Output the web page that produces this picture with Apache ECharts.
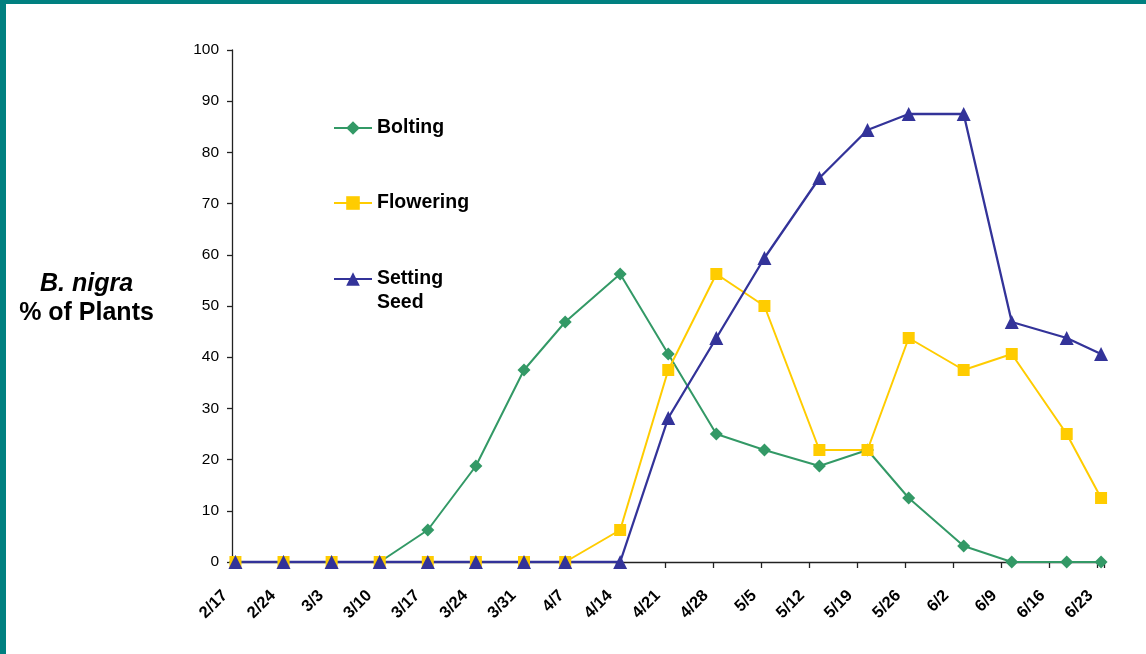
<!DOCTYPE html>
<html>
<head>
<meta charset="utf-8">
<title>B. nigra phenology</title>
<script src="https://cdn.jsdelivr.net/npm/echarts@6/dist/echarts.min.js"></script>
<style>
  html, body { margin: 0; padding: 0; background: #fff; }
  #chart { width: 1146px; height: 654px; }
</style>
</head>
<body>
<div id="chart"></div>
<script>
// Weekly tick labels along the date axis (first tick = 2/17)
const tickLabels = ['2/17','2/24','3/3','3/10','3/17','3/24','3/31','4/7','4/14','4/21',
                    '4/28','5/5','5/12','5/19','5/26','6/2','6/9','6/16','6/23'];

// Survey dates on which the plants were scored
const sampleDates = ['2/17','2/24','3/3','3/10','3/17','3/24','3/31','4/6','4/14','4/21',
                     '4/28','5/5','5/13','5/20','5/26','6/3','6/10','6/18','6/23'];

// Percent of plants in each stage on each survey date
const bolting    = [0, 0, 0, 0, 6.25, 18.75, 37.5, 46.875, 56.25, 40.625,
                    25, 21.875, 18.75, 21.875, 12.5, 3.125, 0, 0, 0];
const flowering  = [0, 0, 0, 0, 0, 0, 0, 0, 6.25, 37.5,
                    56.25, 50, 21.875, 21.875, 43.75, 37.5, 40.625, 25, 12.5];
const settingSeed = [0, 0, 0, 0, 0, 0, 0, 0, 0, 28.125,
                     43.75, 59.375, 75, 84.375, 87.5, 87.5, 46.875, 43.75, 40.625];

const seriesNames = ['Bolting', 'Flowering', 'Setting Seed'];

// Day-of-year for an "m/d" string (non-leap year)
const monthStart = [0, 31, 59, 90, 120, 151, 181, 212, 243, 273, 304, 334];
function dayOfYear(md) {
  const [m, d] = md.split('/').map(Number);
  return monthStart[m - 1] + d;
}
const day0 = dayOfYear(tickLabels[0]);
// Each date occupies a one-day slot; points sit in the middle of their day
const xPos = sampleDates.map(s => dayOfYear(s) - day0 + 0.5);
const pairs = vals => vals.map((v, i) => [xPos[i], v]);

const FONT = 'Arial, "Liberation Sans", sans-serif';
const TEAL = '#008080';
const GREEN = '#339966', YELLOW = '#FFCC00', BLUE = '#333399';

const legendCommon = {
  orient: 'vertical',
  left: 333,
  padding: 0,
  itemWidth: 38,
  itemHeight: 17,
  itemGap: 0,
  selectedMode: false,
  textStyle: { fontFamily: FONT, fontSize: 19.5, fontWeight: 'bold', color: '#000', lineHeight: 24 }
};

const chart = echarts.init(document.getElementById('chart'), null, { renderer: 'canvas' });
chart.setOption({
  animation: false,
  backgroundColor: '#fff',
  grid: { left: 232, right: 41.5, top: 50, bottom: 92, containLabel: false },
  xAxis: {
    type: 'value',
    min: 0,
    max: (tickLabels.length - 1) * 7 + 1,
    interval: 7,
    splitLine: { show: false },
    axisLine: { show: true, lineStyle: { color: '#222', width: 1.3 } },
    axisTick: { show: true, length: 6, lineStyle: { color: '#222', width: 1.3 } },
    axisLabel: {
      rotate: 45,
      margin: 24,
      padding: [0, 10, 0, 0],
      fontFamily: FONT,
      fontSize: 16.5,
      fontWeight: 'bold',
      color: '#000',
      showMaxLabel: true,
      formatter: v => (v % 7 === 0 ? (tickLabels[v / 7] || '') : '')
    }
  },
  yAxis: {
    type: 'value',
    min: 0,
    max: 100,
    interval: 10,
    splitLine: { show: false },
    axisLine: { show: true, lineStyle: { color: '#222', width: 1.3 } },
    axisTick: { show: true, length: 5, lineStyle: { color: '#222', width: 1.3 } },
    axisLabel: { fontFamily: FONT, fontSize: 15.5, color: '#000', margin: 13 }
  },
  legend: [
    Object.assign({}, legendCommon, { data: [seriesNames[0]], top: 127 - 11 }),
    Object.assign({}, legendCommon, { data: [seriesNames[1]], top: 202 - 11 }),
    Object.assign({}, legendCommon, {
      data: [seriesNames[2]], top: 278 - 35,
      // first line left blank so "Setting" sits level with the icon
      formatter: () => ' \nSetting\nSeed'
    })
  ],
  graphic: [
    { type: 'rect', shape: { x: 0, y: 0, width: 6, height: 654 }, style: { fill: TEAL }, silent: true },
    { type: 'rect', shape: { x: 0, y: 0, width: 1146, height: 4 }, style: { fill: TEAL }, silent: true },
    { type: 'text', x: 86.5, y: 284,
      style: { text: 'B. nigra', fontFamily: FONT, fontSize: 25, fontWeight: 'bold', fontStyle: 'italic',
               fill: '#000', align: 'center', verticalAlign: 'middle' } },
    { type: 'text', x: 86.5, y: 313,
      style: { text: '% of Plants', fontFamily: FONT, fontSize: 25, fontWeight: 'bold',
               fill: '#000', align: 'center', verticalAlign: 'middle' } }
  ],
  series: [
    {
      name: seriesNames[0], type: 'line', data: pairs(bolting),
      symbol: 'diamond', symbolSize: 13,
      lineStyle: { color: GREEN, width: 2 }, itemStyle: { color: GREEN }
    },
    {
      name: seriesNames[1], type: 'line', data: pairs(flowering),
      symbol: 'rect', symbolSize: 12,
      lineStyle: { color: YELLOW, width: 2 }, itemStyle: { color: YELLOW }
    },
    {
      name: seriesNames[2], type: 'line', data: pairs(settingSeed),
      symbol: 'triangle', symbolSize: 14,
      lineStyle: { color: BLUE, width: 2.3 }, itemStyle: { color: BLUE }
    }
  ]
});
</script>
</body>
</html>
